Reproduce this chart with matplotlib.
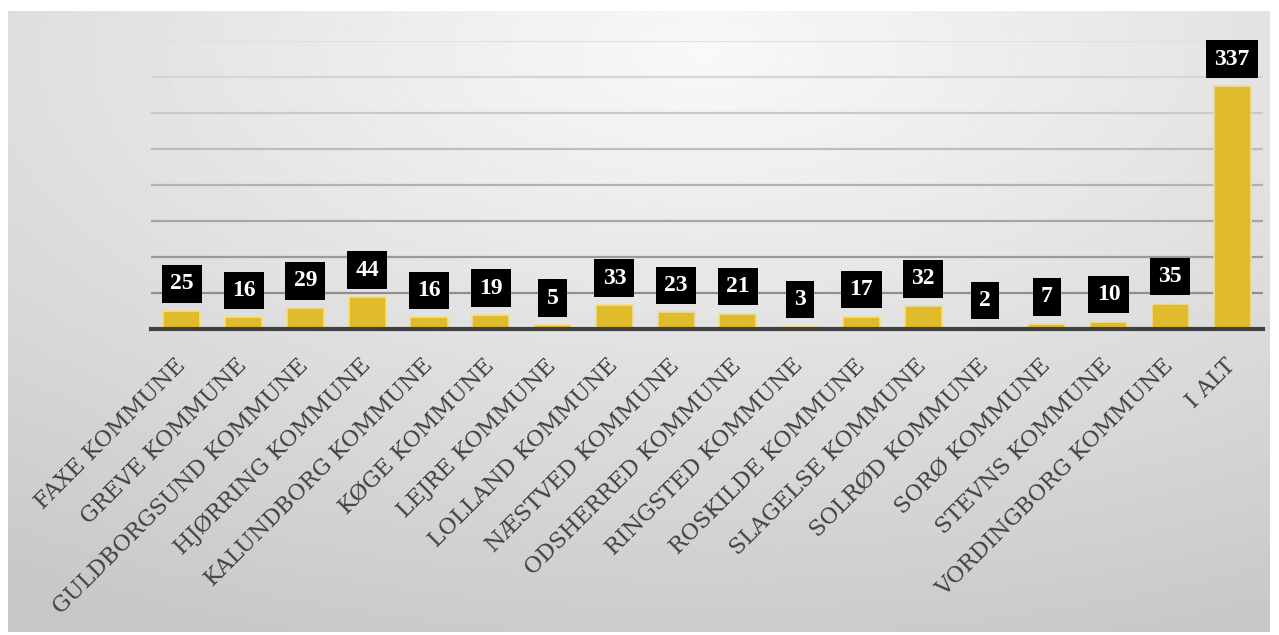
import numpy as np
import matplotlib.pyplot as plt

kommuner = ['FAXE KOMMUNE', 'GREVE KOMMUNE', 'GULDBORGSUND KOMMUNE', 'HJØRRING KOMMUNE',
            'KALUNDBORG KOMMUNE', 'KØGE KOMMUNE', 'LEJRE KOMMUNE', 'LOLLAND KOMMUNE',
            'NÆSTVED KOMMUNE', 'ODSHERRED KOMMUNE', 'RINGSTED KOMMUNE', 'ROSKILDE KOMMUNE',
            'SLAGELSE KOMMUNE', 'SOLRØD KOMMUNE', 'SORØ KOMMUNE', 'STEVNS KOMMUNE',
            'VORDINGBORG KOMMUNE', 'I ALT']
antal = [25, 16, 29, 44, 16, 19, 5, 33, 23, 21, 3, 17, 32, 2, 7, 10, 35, 337]

W, H = 1279, 635
fig = plt.figure(figsize=(W / 100, H / 100), dpi=100, facecolor='white')

# radial grey background
bg = fig.add_axes([8 / W, 3 / H, 1262 / W, 621 / H])
yy, xx = np.mgrid[0:300, 0:600]
r = np.sqrt(((xx - 330) / 600) ** 2 + ((yy - 20) / 300) ** 2)
r = np.clip(r, 0, 1)
grey = 0.975 - 0.19 * r
bg.imshow(grey, cmap='gray', vmin=0, vmax=1, aspect='auto', interpolation='bilinear')
bg.set_axis_off()

ax = fig.add_axes([151 / W, 1 - 329 / H, 1112 / W, 288 / H])
ax.patch.set_alpha(0)
x = np.arange(len(kommuner))
ax.bar(x, antal, width=0.6, color='#E0BB2C', edgecolor='#F3DD8C', linewidth=1.2, zorder=3)
ax.set_xlim(-0.5, len(kommuner) - 0.5)
ax.set_ylim(0, 400)

# gridlines fade from dark (bottom) to light (top)
for g in range(50, 401, 50):
    c = 0.56 + 0.32 * (g - 50) / 350
    ax.axhline(g, color=str(c), linewidth=1.6, zorder=1)
ax.set_yticks([])
ax.tick_params(axis='x', length=0, pad=24)
for s in ['top', 'right', 'left']:
    ax.spines[s].set_visible(False)
ax.spines['bottom'].set_color('#404040')
ax.spines['bottom'].set_linewidth(3)
ax.spines['bottom'].set_zorder(4)

ax.set_xticks(x)
ax.set_xticklabels(kommuner, rotation=45, ha='right', va='center', rotation_mode='anchor',
                   fontsize=16, family='DejaVu Serif', color='#404040')

for xi, v in zip(x, antal):
    ax.annotate(str(v), (xi, v), xytext=(0, 12), textcoords='offset points',
                ha='center', va='bottom', fontsize=17, fontweight='bold',
                family='Liberation Serif', color='white', zorder=5,
                bbox=dict(boxstyle='square,pad=0.35', fc='black', ec='none'))

fig.savefig('out.png', dpi=100, facecolor='white')
